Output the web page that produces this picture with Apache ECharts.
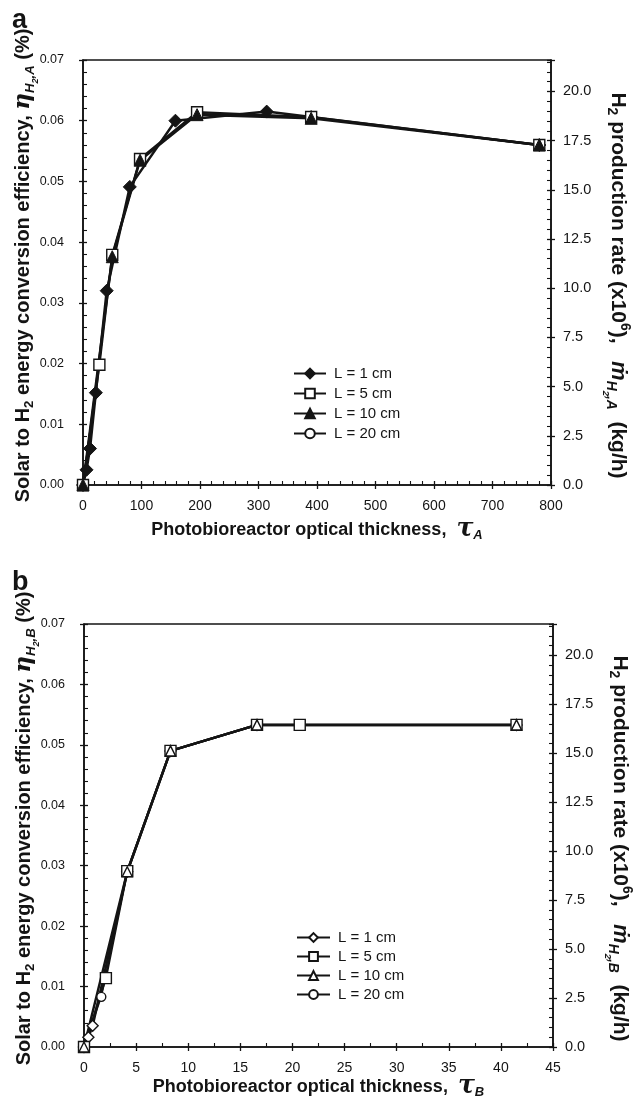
<!DOCTYPE html>
<html><head><meta charset="utf-8">
<script src="https://cdn.jsdelivr.net/npm/echarts@6/dist/echarts.min.js"></script>
<style>html,body{margin:0;padding:0;background:#fff}#c{width:633px;height:1107px}</style>
</head><body><div id="c"></div>
<script>
// ---------- data ----------
const legendLabels = ['L = 1 cm', 'L = 5 cm', 'L = 10 cm', 'L = 20 cm'];
// Panel a: [optical thickness tau_A, efficiency (%)]
const a_L1  = [[0,0],[6,0.0025],[12,0.0060],[22,0.0152],[40.5,0.0320],[80,0.0491],[158,0.0600],[314,0.0615],[390,0.0606],[780,0.0560]];
const a_L5  = [[0,0],[28,0.0198],[50,0.0379],[97.5,0.0537],[195,0.0614],[390,0.0606],[780,0.0560]];
const a_L10 = [[0,0],[50,0.0376],[97.5,0.0535],[195,0.0610],[390,0.0604],[780,0.0560]];
const a_L20 = [[0,0],[50,0.0377],[97.5,0.0536],[195,0.0612],[390,0.0605],[780,0.0560]];
// Panel b: [optical thickness tau_B, efficiency (%)]
const b_L1  = [[0,0],[0.42,0.0016],[0.83,0.0035],[4.15,0.0290],[8.3,0.0490],[16.6,0.0533],[41.5,0.0533]];
const b_L5  = [[0,0],[2.1,0.0114],[4.15,0.0291],[8.3,0.0490],[16.6,0.0533],[20.7,0.0533],[41.5,0.0533]];
const b_L10 = [[0,0],[4.15,0.0290],[8.3,0.0490],[16.6,0.0533],[41.5,0.0533]];
const b_L20 = [[0,0],[1.66,0.0083],[4.15,0.0290],[8.3,0.0490],[16.6,0.0533],[41.5,0.0533]];
// axis ranges [min, max, interval]
const effRange = [0, 0.07, 0.01];       // left axes
const rateRange = [0, 21.6, 2.5];       // right axes (x10^6 kg/h)
const tauARange = [0, 800, 100];
const tauBRange = [0, 45, 5];

// ---------- styling ----------
const F = '"Liberation Sans", Arial, sans-serif';
const K = '#141414';
const chart = echarts.init(document.getElementById('c'), null, {renderer: 'canvas'});

function rich(s) {
  return {
    b:   {fontSize: s, fontWeight: 'bold', fontFamily: F, color: K},
    bs:  {fontSize: s * 0.66, fontWeight: 'bold', fontFamily: F, color: K, padding: [s * 0.62, 0, 0, 0]},
    bup: {fontSize: s * 0.66, fontWeight: 'bold', fontFamily: F, color: K, padding: [0, 0, s * 0.62, 0]},
    gi:  {fontSize: s * 1.15, fontWeight: 'bold', fontStyle: 'italic', fontFamily: 'DejaVu Serif, serif', color: K},
    mi:  {fontSize: s * 1.05, fontWeight: 'bold', fontStyle: 'italic', fontFamily: F, color: K},
    gs:  {fontSize: s * 0.66, fontWeight: 'bold', fontStyle: 'italic', fontFamily: F, color: K, padding: [s * 0.68, 0, 0, 0]},
    gss: {fontSize: s * 0.45, fontWeight: 'bold', fontStyle: 'italic', fontFamily: F, color: K, padding: [s * 1.2, 0, 0, 0]},
    tau: {fontSize: s * 1.4, fontWeight: 'bold', fontStyle: 'italic', fontFamily: 'DejaVu Serif, serif', color: K},
    ts:  {fontSize: s * 0.72, fontWeight: 'bold', fontStyle: 'italic', fontFamily: F, color: K, padding: [s * 0.68, 0, 0, 0]}
  };
}

function xAxes(g, r, minor, sub, gap) {
  return [{
    gridIndex: g, type: 'value', min: r[0], max: r[1], interval: r[2], position: 'bottom',
    axisLine: {show: true, onZero: false, lineStyle: {color: K, width: 1.7}},
    axisTick: {show: true, inside: true, length: 4, lineStyle: {color: K, width: 1.3}},
    minorTick: {show: true, splitNumber: minor, length: 4, lineStyle: {color: K, width: 1.1}},
    splitLine: {show: false},
    axisLabel: {fontSize: 14, color: K, margin: 14, fontFamily: F},
    name: '{b|Photobioreactor optical thickness,  }{tau|τ}{ts|' + sub + '}',
    nameLocation: 'middle', nameGap: gap, nameMoveOverlap: false, nameTextStyle: {rich: rich(18)}
  }, {
    gridIndex: g, type: 'value', min: r[0], max: r[1], interval: r[2], position: 'bottom',
    axisLine: {show: false}, axisLabel: {show: false}, splitLine: {show: false},
    axisTick: {show: true, inside: false, length: 4, lineStyle: {color: K, width: 1.3}}
  }];
}

function yAxes(g, sub) {
  return [{
    gridIndex: g, type: 'value', min: effRange[0], max: effRange[1], interval: effRange[2], position: 'left',
    axisLine: {show: true, lineStyle: {color: K, width: 1.7}},
    axisTick: {show: true, inside: true, length: 4, lineStyle: {color: K, width: 1.3}},
    minorTick: {show: true, splitNumber: 5, length: 4, lineStyle: {color: K, width: 1.1}},
    splitLine: {show: false},
    axisLabel: {fontSize: 12.5, color: K, margin: 19, fontFamily: F, formatter: v => v.toFixed(2)},
    name: '{b|Solar to H}{bs|2}{b| energy conversion efficiency, }{gi|η}{gs|H}{gss|2}{gs|,' + sub + '}{b| (%)}',
    nameLocation: 'middle', nameRotate: 90, nameGap: 43, nameMoveOverlap: false,
    nameTextStyle: {rich: rich(20), padding: [0, 0, 0, 14]}
  }, {
    gridIndex: g, type: 'value', min: effRange[0], max: effRange[1], interval: effRange[2], position: 'left',
    axisLine: {show: false}, axisLabel: {show: false}, splitLine: {show: false},
    axisTick: {show: true, inside: false, length: 4, lineStyle: {color: K, width: 1.3}}
  }, {
    gridIndex: g, type: 'value', min: rateRange[0], max: rateRange[1], interval: rateRange[2], position: 'right',
    axisLine: {show: true, lineStyle: {color: K, width: 1.7}},
    axisTick: {show: true, inside: true, length: 4, lineStyle: {color: K, width: 1.3}},
    minorTick: {show: true, splitNumber: 5, length: 4, lineStyle: {color: K, width: 1.1}},
    splitLine: {show: false},
    axisLabel: {fontSize: 14.5, color: K, margin: 12, fontFamily: F, showMaxLabel: false, formatter: v => v.toFixed(1)},
    name: '{b|H}{bs|2}{b| production rate (x10}{bup|6}{b|),   }{mi|ṁ}{gs|H}{gss|2}{gs|,' + sub + '}{b|  (kg/h)}',
    nameLocation: 'middle', nameRotate: -90, nameGap: 50, nameMoveOverlap: false,
    nameTextStyle: {rich: rich(21), padding: [0, 0, 0, 26]}
  }, {
    gridIndex: g, type: 'value', min: rateRange[0], max: rateRange[1], interval: rateRange[2], position: 'right',
    axisLine: {show: false}, axisLabel: {show: false}, splitLine: {show: false},
    axisTick: {show: true, inside: false, length: 4, lineStyle: {color: K, width: 1.3}}
  }];
}

function ser(name, data, xi, yi, symbol, size, filled, lw) {
  return {
    type: 'line', name: name, data: data, xAxisIndex: xi, yAxisIndex: yi,
    symbol: symbol, symbolSize: size, showSymbol: true, clip: false, animation: false,
    lineStyle: {color: K, width: lw},
    itemStyle: filled ? {color: K, borderColor: K, borderWidth: 1} : {color: '#fff', borderColor: K, borderWidth: 1.4},
    emphasis: {disabled: true}
  };
}

const namesA = legendLabels.map(l => 'a|' + l);
const namesB = legendLabels.map(l => 'b|' + l);

const option = {
  backgroundColor: '#fff',
  animation: false,
  title: [
    {text: 'a', left: 7, top: 2, textStyle: {fontSize: 27, fontWeight: 'bold', color: K, fontFamily: F}},
    {text: 'b', left: 7, top: 564, textStyle: {fontSize: 27, fontWeight: 'bold', color: K, fontFamily: F}}
  ],
  grid: [
    {left: 83, right: 82, top: 60, height: 425, show: true, borderColor: K, borderWidth: 1.4,
     backgroundColor: 'transparent', containLabel: false, outerBoundsMode: 'none'},
    {left: 84, right: 80, top: 624, height: 423, show: true, borderColor: K, borderWidth: 1.4,
     backgroundColor: 'transparent', containLabel: false, outerBoundsMode: 'none'}
  ],
  xAxis: [...xAxes(0, tauARange, 5, 'A', 32), ...xAxes(1, tauBRange, 2, 'B', 27)],
  yAxis: [...yAxes(0, 'A'), ...yAxes(1, 'B')],
  legend: [
    {orient: 'vertical', left: 288, top: 361, itemWidth: 32, itemHeight: 12, itemGap: 5,
     data: namesA, formatter: n => n.split('|')[1], selectedMode: false,
     textStyle: {fontSize: 15, color: K, fontFamily: F, padding: [0, 0, 0, 3]}},
    {orient: 'vertical', left: 291, top: 925, itemWidth: 33, itemHeight: 11, itemGap: 4,
     data: namesB, formatter: n => n.split('|')[1], selectedMode: false,
     textStyle: {fontSize: 15, color: K, fontFamily: F, padding: [0, 0, 0, 3]}}
  ],
  // draw order: circles underneath, triangles on top
  series: [
    ser(namesA[3], a_L20, 0, 0, 'circle', 9, false, 1.6),
    ser(namesA[0], a_L1, 0, 0, 'diamond', 13, true, 2.5),
    ser(namesA[1], a_L5, 0, 0, 'rect', 11, false, 2.3),
    ser(namesA[2], a_L10, 0, 0, 'triangle', 12, true, 2.5),
    ser(namesB[3], b_L20, 2, 4, 'circle', 9, false, 1.6),
    ser(namesB[0], b_L1, 2, 4, 'diamond', 11, false, 2.5),
    ser(namesB[1], b_L5, 2, 4, 'rect', 11, false, 2.3),
    ser(namesB[2], b_L10, 2, 4, 'triangle', 10, false, 2.5)
  ]
};
chart.setOption(option);
</script>
</body></html>
